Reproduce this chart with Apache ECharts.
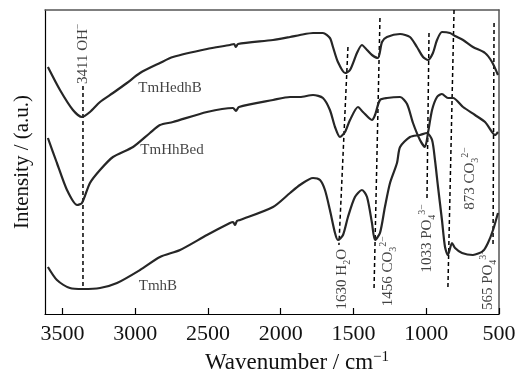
<!DOCTYPE html>
<html>
<head>
<meta charset="utf-8">
<script src="https://cdn.jsdelivr.net/npm/echarts@6/dist/echarts.min.js"></script>
<style>html,body{margin:0;padding:0;background:#fff;}#c{width:526px;height:371px;}</style>
</head>
<body>
<div id="c"></div>
<script>
// ---- Data (wavenumber in cm^-1, intensity in arbitrary units) ----
const xTicks = [500, 1000, 1500, 2000, 2500, 3000, 3500];

const hedhB_wn = [3600,3517,3428,3366,3311,3242,3153,3057,2967,2830,2741,2507,2349,2321,2308,2294,2053,1936,1868,1778,1710,1662,1641,1607,1558,1524,1476,1442,1407,1373,1332,1304,1270,1180,1112,1064,1022,988,954,926,892,837,802,747,679,596,548,507];
const hedhB_val = [247,224,204,197,202,212,221,231,241,251,257,265,269,270,267,270,274,277,279,281,281,276,267,252,241,244,261,269,264,259,256,272,277,280,277,267,257,254,261,274,282,281,278,274,267,261,252,239];

const hhBed_wn = [3600,3538,3469,3400,3366,3311,3242,3153,3015,2899,2830,2741,2507,2328,2308,2287,2053,1936,1868,1778,1710,1662,1627,1593,1558,1524,1469,1435,1373,1352,1318,1270,1180,1132,1091,1043,1009,988,960,926,892,851,816,747,665,596,548,527,507];
const hhBed_val = [176,151,124,109,111,131,144,157,167,181,189,192,202,206,203,207,214,217,217,219,216,204,187,177,182,194,207,202,194,199,214,216,217,210,191,174,167,181,204,217,220,216,216,207,199,192,182,179,182];

const hB_wn = [3600,3538,3449,3359,3242,3125,2967,2830,2692,2507,2349,2328,2314,2301,2280,2053,1936,1868,1778,1730,1696,1662,1627,1607,1572,1538,1490,1442,1407,1373,1352,1318,1284,1249,1201,1180,1112,1043,995,960,940,919,892,871,851,823,802,754,679,610,576,541,507];
const hB_val = [47,34,26,25,26,31,44,57,64,79,91,92,89,93,94,107,121,129,136,134,124,104,81,74,79,97,117,124,117,91,74,81,107,131,151,167,177,179,181,174,154,127,94,67,59,71,66,61,59,63,71,84,101];

const seriesNames = ['TmHedhB', 'TmHhBed', 'TmhB'];

// Peak assignments: label parts and guide line endpoints [wn, intensity]
const peakLabels = [
  ['3411 OH', '', '−'],
  ['1630 H', '2', 'O'],
  ['1456 CO', '3', '2−'],
  ['1033 PO', '4', '3−'],
  ['873 CO', '3', '2−'],
  ['565 PO', '4', '3−']
];
const guideStart = [[3359,228],[1538,267],[1318,296],[981,281],[809,304],[534,291]];
const guideEnd   = [[3359,25],[1600,69],[1359,24],[995,114],[851,27],[541,69]];

// ---- layout for annotation text (data coordinates) ----
const peakLabelAnchor = [[3359,230],[1579,65],[1263,78],[995,110],[700,167],[576,65]];
const peakLabelAlign = ['left','right','right','right','right','right'];
const seriesLabelAnchor = [[2761,226],[2747,164],[2844,28]];

const FONT = '"Liberation Serif", "Times New Roman", serif';
const zip = (a, b) => a.map((v, i) => [v, b[i]]);

function peakText(p) {
  if (p[1] === '' ) return '{n|' + p[0] + '}{sup|' + p[2] + '}';
  if (p[2] === 'O') return '{n|' + p[0] + '}{sub|' + p[1] + '}{n|O}';
  return '{n|' + p[0] + '}{sub|' + p[1] + '}{sup|' + p[2] + '}';
}

const richStyles = {
  n: { fontFamily: FONT, fontSize: 15, color: '#111', lineHeight: 20 },
  sup: { fontFamily: FONT, fontSize: 10, color: '#111', verticalAlign: 'top', lineHeight: 20 },
  sub: { fontFamily: FONT, fontSize: 10, color: '#111', verticalAlign: 'bottom', lineHeight: 16 }
};

const curveStyle = { color: '#262626', width: 2.2 };
const curves = [zip(hedhB_wn, hedhB_val), zip(hhBed_wn, hhBed_val), zip(hB_wn, hB_val)];

const series = [];
curves.forEach((d, i) => {
  series.push({
    name: seriesNames[i], type: 'line', data: d, symbol: 'none', smooth: 0.25,
    lineStyle: curveStyle, silent: true, z: 3
  });
});
guideStart.forEach((s, i) => {
  series.push({
    type: 'line', data: [s, guideEnd[i]], symbol: 'none', silent: true, z: 2,
    lineStyle: { color: '#000', width: 1.5, type: [4, 3] }
  });
});
series.push({
  type: 'scatter', symbolSize: 0, silent: true, z: 5,
  data: peakLabelAnchor.map((p, i) => ({
    value: p,
    label: {
      show: true, rotate: 90, position: [0, 0], align: peakLabelAlign[i], verticalAlign: 'middle',
      formatter: peakText(peakLabels[i]), rich: richStyles
    }
  }))
});
series.push({
  type: 'scatter', symbolSize: 0, silent: true, z: 5,
  data: seriesLabelAnchor.map((p, i) => ({
    value: p,
    label: {
      show: true, position: [0, 0], align: 'center', verticalAlign: 'middle',
      formatter: seriesNames[i], fontFamily: FONT, fontSize: 15, color: '#111'
    }
  }))
});

const chart = echarts.init(document.getElementById('c'), null, { renderer: 'canvas' });
chart.setOption({
  animation: false,
  backgroundColor: '#fff',
  grid: { left: 45, right: 27, top: 10, bottom: 57, containLabel: false, outerBoundsMode: 'none' },
  xAxis: [{
    type: 'value', inverse: true, min: xTicks[0], max: 3620, interval: 500,
    axisLine: { show: true, lineStyle: { color: '#000', width: 1.2 } },
    axisTick: { show: true, inside: true, length: 6, lineStyle: { color: '#000', width: 1.2 } },
    axisLabel: {
      show: true, margin: 9, fontFamily: FONT, fontSize: 22, color: '#111', showMaxLabel: false,
      formatter: v => String(v)
    },
    splitLine: { show: false },
    name: '{n|Wavenumber / cm}{sup|−1}', nameLocation: 'middle', nameGap: 33,
    nameTextStyle: {
      padding: [0, 0, 0, 50],
      rich: {
        n: { fontFamily: FONT, fontSize: 23, color: '#111', lineHeight: 26 },
        sup: { fontFamily: FONT, fontSize: 15, color: '#111', verticalAlign: 'top', lineHeight: 26 }
      }
    }
  }, {
    type: 'value', inverse: true, min: xTicks[0], max: 3620, position: 'top',
    axisLine: { show: true, onZero: false, lineStyle: { color: '#555', width: 1.5 } },
    axisTick: { show: false }, axisLabel: { show: false }, splitLine: { show: false }
  }],
  yAxis: [{
    type: 'value', min: 0, max: 304,
    axisLine: { show: true, lineStyle: { color: '#000', width: 1.2 } },
    axisTick: { show: false }, axisLabel: { show: false }, splitLine: { show: false },
    name: 'Intensity / (a.u.)', nameLocation: 'middle', nameGap: 12,
    nameTextStyle: { fontFamily: FONT, fontSize: 21, color: '#111' }
  }, {
    type: 'value', min: 0, max: 304, position: 'right',
    axisLine: { show: true, onZero: false, lineStyle: { color: '#555', width: 1.5 } },
    axisTick: { show: false }, axisLabel: { show: false }, splitLine: { show: false }
  }],
  series: series
});
</script>
</body>
</html>
